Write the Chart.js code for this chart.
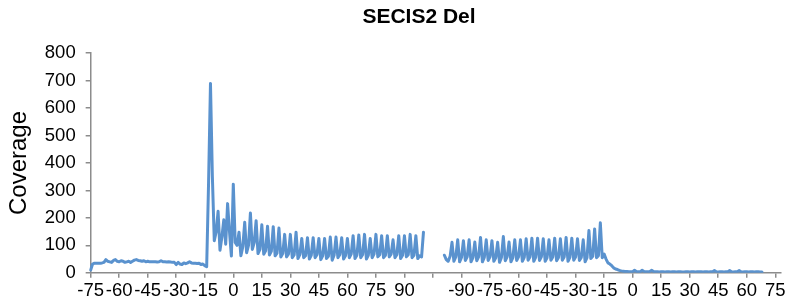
<!DOCTYPE html>
<html>
<head>
<meta charset="utf-8">
<script src="https://cdn.jsdelivr.net/npm/chart.js@4.4.1/dist/chart.umd.min.js"></script>
<style>
html,body{margin:0;padding:0;background:#fff;}
#wrap{width:788px;height:304px;}
</style>
</head>
<body>
<div id="wrap"><canvas id="c" width="788" height="304"></canvas></div>
<script>
// Category ranges (nucleotide positions) for the two panels and the blank gap between them
const seg1Start = -75, seg1End = 100;
const gapCount = 10;
const seg2Start = -99, seg2End = 78;
const tickEvery = 15;

// Coverage, segment 1 (positions -75 .. 100)
const coverage1 = [
  10,32,35,35,35,35,36,38,48,42, 40,38,45,48,42,40,44,42,38,40,
  42,38,42,46,48,45,44,42,44,40, 42,40,40,40,40,39,40,44,40,40,
  39,40,39,38,38,30,38,32,30,36, 33,36,40,36,35,35,34,35,30,32,
  26,22,
  330,690,350,117,150,224,82,130,193,104,252,150,61,
  323,111,100,148,62,95,184,73,100,218,85,110,190,70,85,175,68,80,170,65,78,168,62,72,163,58,70,
  140,58,68, 140,55,65, 148,52,66, 125,55,62, 128,50,64, 128,55,66,
  125,48,62, 125,52,60, 130,46,64, 130,55,66, 128,50,62, 125,55,68,
  135,52,64, 138,55,66, 140,50,64, 125,55,68, 140,58,66, 135,55,64,
  135,58,68, 120,55,66, 135,52,64, 135,58,66, 140,55,64,
  135,52,62,58,148
];

// Coverage, segment 2 (positions -99 .. 78)
const coverage2 = [
  64,48,42,60,
  111,42,58, 120,40,56, 117,45,58, 120,40,55, 112,44,58, 129,40,56,
  120,45,58, 117,42,55, 111,38,56, 132,44,58, 112,40,55, 120,45,58,
  120,42,56, 124,46,58, 126,42,56, 126,45,58, 124,42,55, 120,46,58,
  126,44,56, 124,46,58, 129,42,56, 126,46,58, 124,45,56, 120,40,55,
  154,52,60, 160,55,62,
  182,
  55,68,50,36,32,26,18,14,12,9,7,6,5,5,4,4,
  4,9,5,4,4,9,5,4,4,5, 9,5,4,4,3,4,4,3,4,4,
  3,4,4,3,4,4,3,3,4,4, 3,4,4,3,4,4,4,3,4,4,
  3,4,4,8,4,3,4,4,3,4, 4,8,4,3,4,4,8,4,3,4,
  4,3,4,4,3,4,4,3,3
];

// Build category labels and the full series
function range(a, b){ const r=[]; for(let i=a;i<=b;i++) r.push(String(i)); return r; }
const labels = [].concat(range(seg1Start, seg1End), new Array(gapCount).fill(''), range(seg2Start, seg2End));
const values = [].concat(coverage1, new Array(gapCount).fill(null), coverage2);

const axisGray = '#8c8c8c';
const fontFam = "'Liberation Sans', Arial, sans-serif";

const titleShift = {
  id: 'titleShift',
  afterLayout(chart){
    const t = chart.titleBlock;
    if (t) { t.left += 26; t.right += 26; }
  }
};

new Chart(document.getElementById('c'), {
  type: 'line',
  data: {
    labels: labels,
    datasets: [{
      data: values,
      borderColor: '#5A92CE',
      borderWidth: 3,
      pointRadius: 0,
      tension: 0,
      spanGaps: false,
      borderJoinStyle: 'round',
      borderCapStyle: 'round',
      fill: false
    }]
  },
  plugins: [titleShift],
  options: {
    responsive: false,
    animation: false,
    layout: { padding: { left: 5, right: 7, top: 0, bottom: 0 } },
    plugins: {
      legend: { display: false },
      tooltip: { enabled: false },
      title: {
        display: true,
        text: 'SECIS2 Del',
        color: '#000',
        font: { family: fontFam, size: 21, weight: 'bold' },
        padding: { top: 5, bottom: 23 }
      }
    },
    scales: {
      x: {
        type: 'category',
        offset: false,
        grid: { display: true, drawOnChartArea: false, drawTicks: true, tickLength: 5, color: axisGray, lineWidth: 1.5, offset: false },
        border: { display: true, color: axisGray, width: 1.5 },
        ticks: { autoSkip: false, maxRotation: 0, minRotation: 0, color: '#000', padding: 2, font: { family: fontFam, size: 18.5 } },
        afterBuildTicks: (s) => { s.ticks = s.ticks.filter(t => t.value % tickEvery === 0); }
      },
      y: {
        min: 0, max: 800,
        grid: { display: true, drawOnChartArea: false, drawTicks: true, tickLength: 5, color: axisGray, lineWidth: 1.5 },
        border: { display: true, color: axisGray, width: 1.5 },
        ticks: { stepSize: 100, color: '#000', padding: 10, font: { family: fontFam, size: 18.5 } },
        title: { display: true, text: 'Coverage', color: '#000', font: { family: fontFam, size: 24 }, padding: { top: 0, bottom: 1 } }
      }
    }
  }
});
</script>
</body>
</html>
